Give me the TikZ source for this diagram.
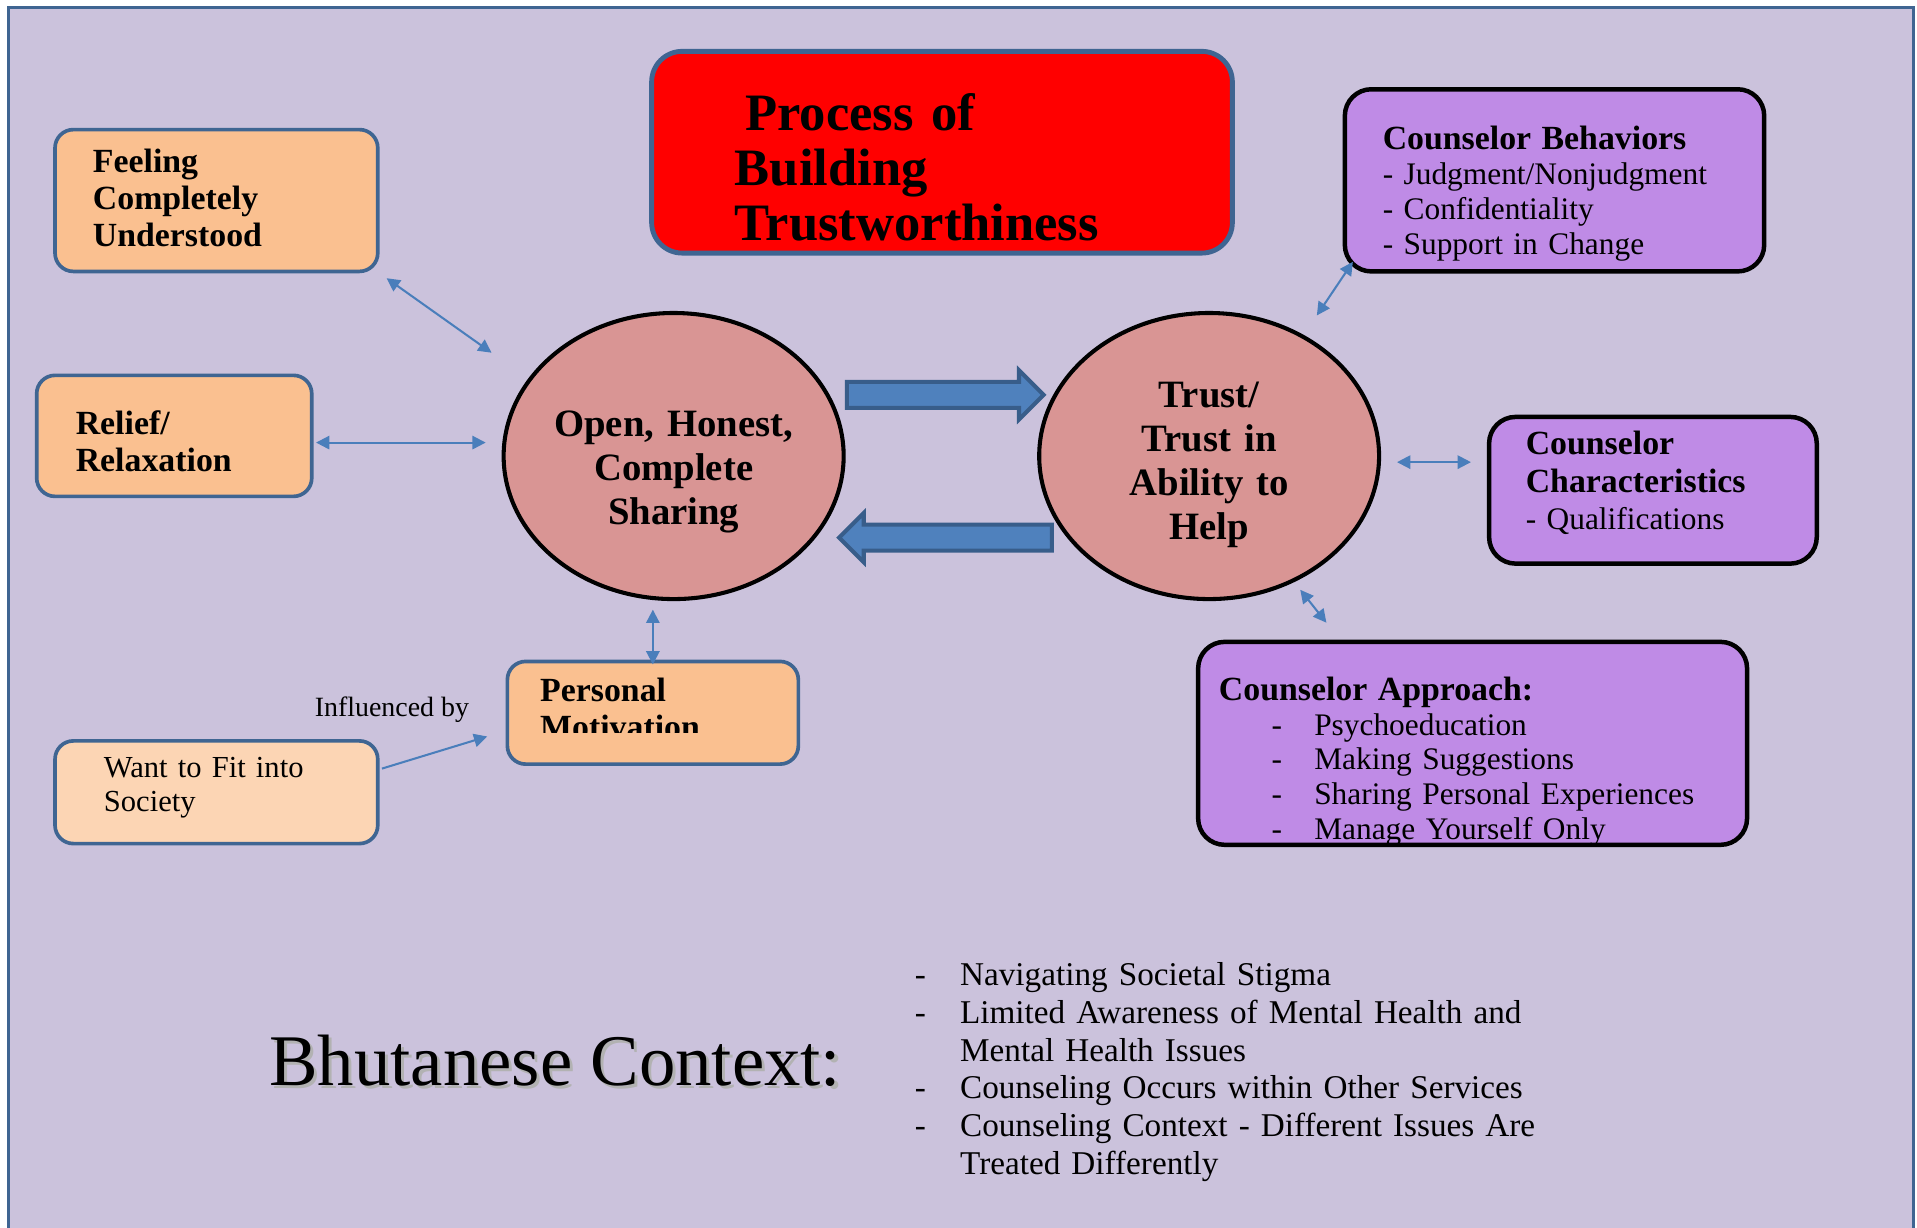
\documentclass[tikz,border=0pt]{standalone}
\usepackage{fontspec}
\setmainfont{Liberation Serif}
\usetikzlibrary{shapes.geometric, shapes.arrows, arrows.meta, positioning, calc}
\definecolor{FrameBlue}{HTML}{3F6592}
\definecolor{PageLilac}{HTML}{CBC2DC}
\definecolor{TitleRed}{HTML}{FF0000}
\definecolor{FactorOrange}{HTML}{FAC090}
\definecolor{FactorPeach}{HTML}{FCD5B4}
\definecolor{CounselPurple}{HTML}{BF8BE6}
\definecolor{SharingRose}{HTML}{D99594}
\definecolor{LinkBlue}{HTML}{4A7EBB}
\definecolor{ArrowBlue}{HTML}{4F81BD}
\definecolor{ArrowEdge}{HTML}{385D8A}
\newcommand{\dashitem}[1][21pt]{\makebox[#1][l]{-}}
\newcommand{\shadowtext}[1]{\makebox[0pt][l]{\kern1.5pt\raisebox{-1.5pt}{\color{black!30}#1}}#1}
\tikzset{
    every node/.style={inner sep=0pt},
    % Orange factor box
    factor/.style={
        rectangle,
        rounded corners=9pt,
        draw=FrameBlue,
        line width=1.8pt,
        fill=FactorOrange,
        align=left,
        text height=12pt,
        font=\fontsize{16.6}{18.3}\selectfont\bfseries
    },
    % Counselor box
    counsel/.style={
        rectangle,
        rounded corners=13pt,
        draw=black,
        line width=2.2pt,
        fill=CounselPurple,
        align=left,
        text height=12pt,
        font=\fontsize{15.4}{17.2}\selectfont
    },
    % Core process ellipse
    core/.style={
        ellipse,
        draw=black,
        line width=2pt,
        fill=SharingRose,
        align=center,
        text height=12pt,
        minimum height=140.4pt,
        font=\fontsize{19}{21.6}\selectfont\bfseries
    },
    % Title box
    titlebox/.style={
        rectangle,
        rounded corners=15pt,
        draw=FrameBlue,
        line width=2.4pt,
        fill=TitleRed,
        align=left,
        text height=12pt,
        font=\fontsize{25.8}{27}\selectfont\bfseries
    },
    % Block arrow between the two processes
    flow/.style={
        single arrow,
        draw=ArrowEdge,
        fill=ArrowBlue,
        line width=2pt,
        single arrow head extend=5.7pt,
        inner ysep=5.4pt,
        anchor=tail
    },
    % Thin link
    link/.style={
        {Triangle[length=6.5pt,width=6.5pt]}-{Triangle[length=6.5pt,width=6.5pt]},
        draw=LinkBlue,
        line width=1pt
    },
    bold/.style={font=\fontsize{16.6}{18.3}\selectfont\bfseries}
}
\begin{document}
\begin{tikzpicture}[x=0.6pt, y=-0.6pt]
        \useasboundingbox (0,0) rectangle (1568,1004);
        \fill[white] (0,0) rectangle (1568,1004);
        \filldraw[fill=PageLilac, draw=FrameBlue, line width=1.8pt] (7,6) rectangle (1565,1020);

        % Title
        \node (title) [titlebox, text width=203.4pt, minimum width=285pt, minimum height=99pt, text depth=33pt] at (770.5,124.5)
            {\hspace*{0.2em}Process of\\Building\\Trustworthiness};

        % Core processes
        \node (share) [core, text width=130pt, inner xsep=-6pt, minimum width=165.6pt, text depth=31.2pt] at (551,373)
            {Open, Honest,\\Complete\\Sharing};
        \node (trust) [core, text width=100pt, minimum width=166.8pt, text depth=60pt] at (989,373)
            {Trust/\\Trust in\\Ability to\\Help};
        \node (fwd) [flow, minimum height=96.6pt] at (691,323) {};
        \node (back) [flow, minimum height=104.4pt, shape border rotate=180] at (862,439.7) {};

        % Client side
        \node (feel) [factor, text width=121.2pt, minimum width=158.4pt, minimum height=69.6pt, text depth=39.6pt] at (177,164)
            {Feeling\\Completely\\Understood};
        \node (relief) [factor, text width=96.6pt, minimum width=135pt, minimum height=59.4pt, text depth=13.8pt] at (142.5,356.5)
            {Relief/\\Relaxation};
        \node (motiv) [factor, minimum width=142.8pt, minimum height=50.4pt] at (534,583) {};
        \begin{scope}
            \clip (motiv.north west) rectangle ([yshift=16.2pt]motiv.south east);
            \node (motivtext) [bold, anchor=north west, text width=109.2pt, align=left] at ([xshift=16.8pt, yshift=-8.6pt]motiv.north west)
                {Personal\\Motivation};
        \end{scope}
        \node (want) [factor, fill=FactorPeach, font=\fontsize{15}{16.8}\selectfont, text width=110.4pt, minimum width=158.4pt, minimum height=50.4pt, text depth=26.4pt] at (177,648)
            {Want to Fit into\\Society};
        \node (infl) [anchor=base east, font=\fontsize{13.7}{16}\selectfont] at (384,586) {Influenced by};

        \draw [link, shorten <=4.2pt, shorten >=22pt] (feel.south east) -- (share.152);
        \draw [link, shorten <=1.2pt, shorten >=7.8pt] ([yshift=-3.3pt]relief.east) -- ([yshift=-3.3pt]relief.east -| share.west);
        \draw [link, shorten <=-2.4pt, shorten >=4.2pt] (motiv.north) -- (motiv.north |- share.south);
        \draw [link, -{Triangle[length=6.5pt,width=6.5pt]}, shorten <=1.2pt, shorten >=9.4pt] (want.8) -- (motiv.187);

        % Counselor side
        \node (beh) [counsel, text width=168.6pt, minimum width=205.8pt, minimum height=89.4pt, text depth=42.6pt] at (1271.5,147.5)
            {{\bfseries\fontsize{16.6}{17.2}\selectfont Counselor Behaviors}\\- Judgment/Nonjudgment\\- Confidentiality\\- Support in Change};
        \node (chars) [counsel, font=\fontsize{15.4}{18.3}\selectfont, text width=124.8pt, minimum width=160.8pt, minimum height=72pt, text depth=46.8pt] at (1352,401)
            {{\bfseries\fontsize{16.6}{18.3}\selectfont Counselor\\Characteristics}\\- Qualifications};
        \node (appr) [counsel, font=\fontsize{15.4}{17}\selectfont, text width=249pt, minimum width=269.4pt, minimum height=99.6pt, text depth=54pt] at (1204.5,608)
            {{\bfseries\fontsize{16.6}{17}\selectfont Counselor Approach:}\\
            \hspace*{25.8pt}\dashitem Psychoeducation\\
            \hspace*{25.8pt}\dashitem Making Suggestions\\
            \hspace*{25.8pt}\dashitem Sharing Personal Experiences\\
            \hspace*{25.8pt}\dashitem Manage Yourself Only};

        \draw [link, shorten <=11.5pt, shorten >=-7pt] (trust.52) -- (beh.204);
        \draw [link, shorten <=7.8pt, shorten >=7.8pt] ([yshift=-3pt]trust.east) -- ([yshift=-3pt]trust.east -| chars.west);
        \draw [link, shorten <=4.8pt, shorten >=10.6pt] (trust.-56) -- (appr.142);

        % Context
        \node (ctx) [anchor=base west, font=\fontsize{35.7}{40}\selectfont] at (220,888) {\shadowtext{Bhutanese Context:}};
        \node (issues) [anchor=north west, text width=340pt, align=left, font=\fontsize{16.3}{18.5}\selectfont] at (748,787)
            {\dashitem[22.2pt]Navigating Societal Stigma\\
            \dashitem[22.2pt]Limited Awareness of Mental Health and\\
            \hspace*{22.2pt}Mental Health Issues\\
            \dashitem[22.2pt]Counseling Occurs within Other Services\\
            \dashitem[22.2pt]Counseling Context - Different Issues Are\\
            \hspace*{22.2pt}Treated Differently};
\end{tikzpicture}
\end{document}
